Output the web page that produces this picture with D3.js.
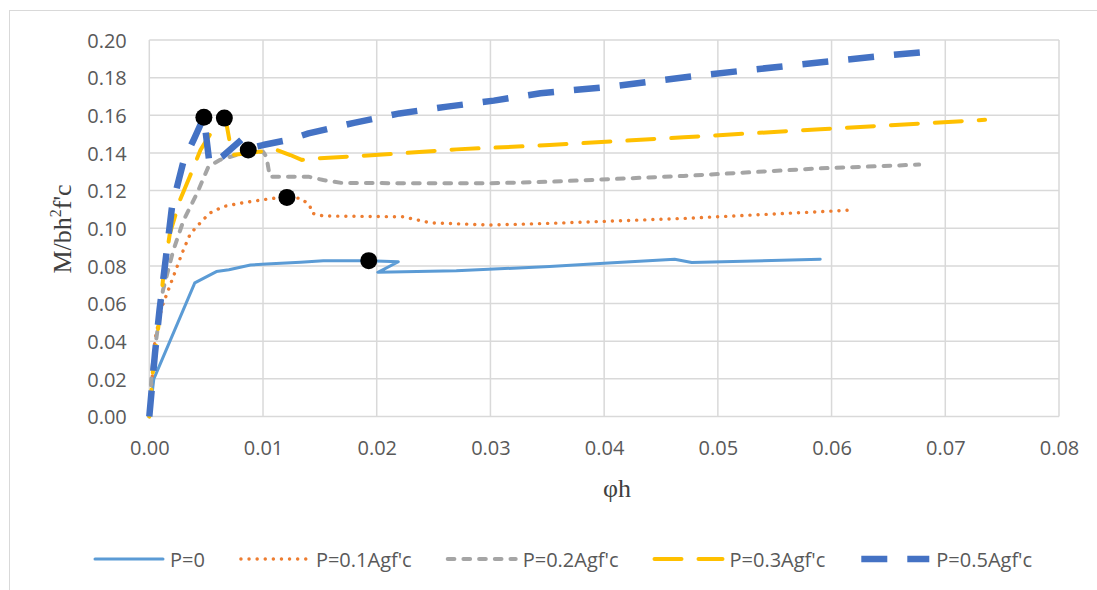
<!DOCTYPE html>
<html>
<head>
<meta charset="utf-8">
<script src="https://cdn.jsdelivr.net/npm/d3@7/dist/d3.min.js"></script>
<style>
  html, body { margin: 0; padding: 0; background: #ffffff; }
  svg { display: block; }
</style>
</head>
<body>
<svg id="chart" width="1097" height="590"></svg>
<script>
// Moment–curvature response for different axial load levels (φh vs M/bh²f'c)

const seriesNames = ["P=0", "P=0.1Agf'c", "P=0.2Agf'c", "P=0.3Agf'c", "P=0.5Agf'c"];

const curveP0 = [
  [0, 0], [0.0004, 0.020], [0.0040, 0.071], [0.0059, 0.077], [0.0070, 0.078],
  [0.0089, 0.0805], [0.0103, 0.081], [0.0133, 0.082], [0.0153, 0.0828],
  [0.0193, 0.0828], [0.0219, 0.0822], [0.0201, 0.0766], [0.0270, 0.0774],
  [0.0352, 0.0797], [0.0400, 0.0814], [0.0462, 0.0835], [0.0477, 0.0818],
  [0.0590, 0.0835]
];

const curveP01 = [
  [0, 0], [0.0005, 0.041], [0.0011, 0.058], [0.0020, 0.0725], [0.0029, 0.087],
  [0.0036, 0.097], [0.0043, 0.1017], [0.0053, 0.108], [0.0065, 0.1115],
  [0.0080, 0.1133], [0.0094, 0.1146], [0.0109, 0.1159], [0.0121, 0.1164],
  [0.0133, 0.1159], [0.0141, 0.1124], [0.0143, 0.108], [0.0153, 0.1065],
  [0.0223, 0.1061], [0.0247, 0.1029], [0.0300, 0.1017], [0.0352, 0.1026],
  [0.0473, 0.1053], [0.0590, 0.1088], [0.0618, 0.1097]
];

const curveP02 = [
  [0, 0], [0.0002, 0.023], [0.0012, 0.067], [0.0021, 0.088], [0.0030, 0.104],
  [0.0042, 0.1186], [0.0052, 0.1327], [0.0062, 0.1363], [0.0077, 0.139],
  [0.0089, 0.1398], [0.0100, 0.1407], [0.0103, 0.138], [0.0106, 0.1274],
  [0.0140, 0.1274], [0.0153, 0.1256], [0.0170, 0.1240], [0.0300, 0.1239],
  [0.0352, 0.1247], [0.0470, 0.1278], [0.0590, 0.1318], [0.0677, 0.1338]
];

const curveP03 = [
  [0, 0], [0.0003, 0.023], [0.0008, 0.048], [0.0012, 0.0725], [0.0018, 0.097],
  [0.0027, 0.115], [0.0036, 0.128], [0.0045, 0.1416], [0.0054, 0.1504],
  [0.0067, 0.1584], [0.0071, 0.145], [0.0074, 0.139], [0.0086, 0.1398],
  [0.0097, 0.1407], [0.0112, 0.1416], [0.0124, 0.1389], [0.0134, 0.1363],
  [0.0150, 0.1372], [0.0212, 0.1394], [0.0270, 0.1419], [0.0352, 0.1442],
  [0.0470, 0.1483], [0.0590, 0.1526], [0.0735, 0.1576]
];

const curveP05 = [
  [0, 0], [0.0005, 0.0336], [0.0009, 0.0566], [0.0014, 0.0814], [0.0020, 0.1115],
  [0.0030, 0.1354], [0.0039, 0.147], [0.0048, 0.159], [0.0053, 0.134],
  [0.0064, 0.138], [0.0081, 0.147], [0.0088, 0.1425], [0.0100, 0.1442],
  [0.0122, 0.1469], [0.0140, 0.1504], [0.0180, 0.1560], [0.0220, 0.1610],
  [0.0262, 0.1646], [0.0303, 0.1678], [0.0344, 0.1717], [0.0405, 0.1752],
  [0.0487, 0.1814], [0.0568, 0.1867], [0.0651, 0.1920], [0.0693, 0.1942]
];

// Peak moment points marked on the curves
const peakPoints = [
  [0.0048, 0.159], [0.0066, 0.1585], [0.0087, 0.1416], [0.0121, 0.1164], [0.0193, 0.0828]
];

const xTickValues = [0, 0.01, 0.02, 0.03, 0.04, 0.05, 0.06, 0.07, 0.08];
const xTickLabels = ["0.00", "0.01", "0.02", "0.03", "0.04", "0.05", "0.06", "0.07", "0.08"];
const yTickValues = [0, 0.02, 0.04, 0.06, 0.08, 0.10, 0.12, 0.14, 0.16, 0.18, 0.20];
const yTickLabels = ["0.00", "0.02", "0.04", "0.06", "0.08", "0.10", "0.12", "0.14", "0.16", "0.18", "0.20"];

const allCurves = [curveP0, curveP01, curveP02, curveP03, curveP05];

const styles = [
  { color: "#5B9BD5", width: 3,   dash: null,     cap: "round" },
  { color: "#ED7D31", width: 3.4, dash: "0.1,8",  cap: "round" },
  { color: "#A5A5A5", width: 4,   dash: "6.7,9",  cap: "round" },
  { color: "#FFC000", width: 4,   dash: "27,17",  cap: "round" },
  { color: "#4472C4", width: 6.5, dash: "26,20",  cap: "butt" }
];

const svg = d3.select("#chart");
const plot = { left: 149.3, right: 1059, top: 40, bottom: 416.5 };

const x = d3.scaleLinear().domain([0, 0.08]).range([plot.left, plot.right]);
const y = d3.scaleLinear().domain([0, 0.20]).range([plot.bottom, plot.top]);

// chart frame
svg.append("rect")
  .attr("x", 9.5).attr("y", 10.5)
  .attr("width", 1110).attr("height", 600)
  .attr("fill", "#ffffff").attr("stroke", "#d9d9d9").attr("stroke-width", 1);

// gridlines
const grid = svg.append("g");
grid.selectAll("line.h").data(yTickValues).enter().append("line")
  .attr("x1", plot.left).attr("x2", plot.right)
  .attr("y1", d => y(d)).attr("y2", d => y(d))
  .attr("stroke", "#d9d9d9").attr("stroke-width", 1.5);
grid.selectAll("line.v").data(xTickValues).enter().append("line")
  .attr("y1", plot.top).attr("y2", plot.bottom)
  .attr("x1", d => x(d)).attr("x2", d => x(d))
  .attr("stroke", "#d9d9d9").attr("stroke-width", 1.5);

const tickFont = "'Open Sans', 'Liberation Sans', sans-serif";

// x axis labels
const xAxis = d3.axisBottom(x).tickValues(xTickValues)
  .tickFormat((d, i) => xTickLabels[i]).tickSize(0).tickPadding(0);
const gx = svg.append("g").attr("transform", `translate(0,${plot.bottom})`).call(xAxis);
gx.select(".domain").remove();
gx.selectAll("text")
  .attr("dy", null).attr("y", 38.5)
  .attr("font-family", tickFont).attr("font-size", 20).attr("fill", "#595959");

// y axis labels
const yAxis = d3.axisLeft(y).tickValues(yTickValues)
  .tickFormat((d, i) => yTickLabels[i]).tickSize(0).tickPadding(0);
const gy = svg.append("g").attr("transform", `translate(${plot.left},0)`).call(yAxis);
gy.select(".domain").remove();
gy.selectAll("text")
  .attr("x", -22.5).attr("dy", "0.36em")
  .attr("font-family", tickFont).attr("font-size", 20).attr("fill", "#595959");

// curves
const line = d3.line().x(d => x(d[0])).y(d => y(d[1]));
const curves = svg.append("g");
allCurves.forEach((data, i) => {
  const s = styles[i];
  curves.append("path")
    .datum(data)
    .attr("d", line)
    .attr("fill", "none")
    .attr("stroke", s.color)
    .attr("stroke-width", s.width)
    .attr("stroke-linecap", s.cap)
    .attr("stroke-linejoin", "round")
    .attr("stroke-dasharray", s.dash);
});

// peak markers
svg.append("g").selectAll("circle").data(peakPoints).enter().append("circle")
  .attr("cx", d => x(d[0])).attr("cy", d => y(d[1]))
  .attr("r", 8.5).attr("fill", "#000000");

// axis titles
svg.append("text")
  .attr("x", 617).attr("y", 497)
  .attr("text-anchor", "middle")
  .attr("font-family", "'Liberation Serif', 'Times New Roman', serif")
  .attr("font-size", 26).attr("fill", "#404040")
  .text("φh");

const yTitle = svg.append("text")
  .attr("transform", "translate(71,229) rotate(-90)")
  .attr("text-anchor", "middle")
  .attr("font-family", "'Liberation Serif', 'Times New Roman', serif")
  .attr("font-size", 26).attr("fill", "#404040");
yTitle.append("tspan").text("M/bh");
yTitle.append("tspan").attr("font-size", 16).attr("dy", -10).text("2");
yTitle.append("tspan").attr("dy", 10).text("f'c");

// legend
const legend = svg.append("g");
let lx = 95;
const ly = 559;
seriesNames.forEach((name, i) => {
  const s = styles[i];
  legend.append("line")
    .attr("x1", lx).attr("x2", lx + 68)
    .attr("y1", ly).attr("y2", ly)
    .attr("stroke", s.color).attr("stroke-width", s.width)
    .attr("stroke-linecap", s.cap)
    .attr("stroke-dasharray", s.dash);
  const t = legend.append("text")
    .attr("x", lx + 75).attr("y", ly + 7.5)
    .attr("font-family", tickFont).attr("font-size", 20).attr("fill", "#595959")
    .text(name);
  lx += 75 + t.node().getComputedTextLength() + 36;
});
</script>
</body>
</html>
